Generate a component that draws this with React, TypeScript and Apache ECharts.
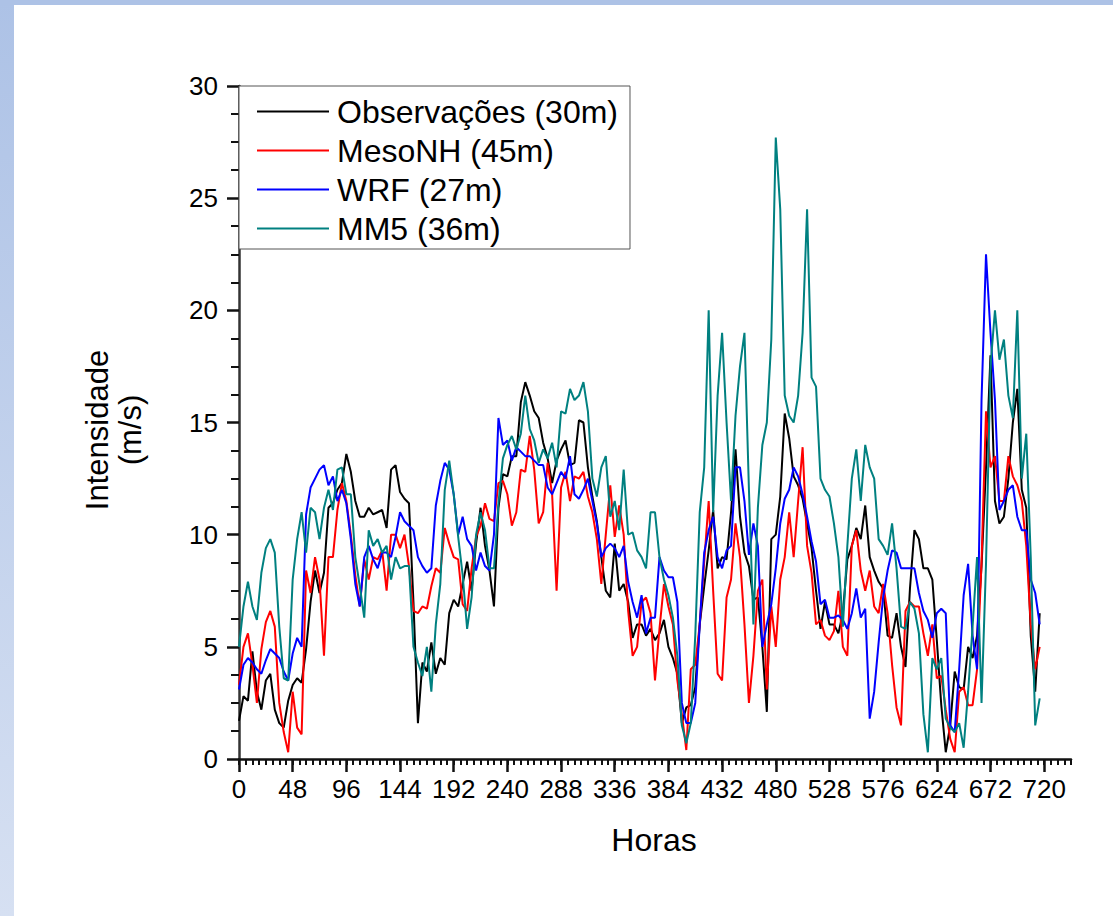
import React, { useEffect, useRef } from 'react';
import * as echarts from 'echarts';

// sampling grid: every 4 hours
const HOURS: number[] = Array.from({ length: 180 }, (_, i) => i * 4);

const OBS = [
  1.7, 2.8, 2.6, 4.8, 3.0, 2.2, 3.5, 3.8, 2.2, 1.6,
  1.4, 2.6, 3.3, 3.6, 3.4, 4.9, 7.0, 8.4, 7.4, 8.3,
  11.2, 11.4, 12.0, 12.3, 13.6, 12.8, 11.5, 10.8, 10.8, 11.2,
  10.9, 11.0, 11.1, 10.3, 12.9, 13.1, 11.9, 11.6, 11.4, 7.0,
  1.6, 4.3, 3.9, 5.2, 3.8, 4.5, 4.2, 6.5, 7.1, 6.8,
  7.8, 8.8, 7.5, 9.6, 11.2, 9.5, 8.4, 6.8, 11.2, 12.7,
  12.6, 13.5, 13.5, 15.9, 16.8, 16.2, 15.5, 15.2, 14.1, 13.4,
  12.3, 13.3, 13.8, 14.2, 13.1, 13.2, 15.1, 15.0, 13.0, 11.7,
  10.6, 9.0, 7.5, 7.2, 9.6, 7.5, 7.8, 7.0, 5.4, 6.0,
  6.0, 5.5, 5.8, 5.3, 5.6, 6.2, 5.0, 4.5, 3.8, 1.6,
  2.3, 2.4, 3.2, 6.0, 7.7, 9.3, 11.1, 8.5, 9.0, 8.9,
  11.0, 13.8, 10.8, 9.2, 8.6, 7.1, 7.2, 5.0, 2.1, 9.8,
  10.0, 11.7, 15.4, 14.3, 12.6, 12.2, 11.6, 10.5, 9.4, 7.5,
  5.8, 7.0, 6.0, 6.0, 5.6, 6.5, 8.9, 9.5, 10.3, 9.8,
  11.3, 9.0, 8.4, 7.9, 7.6, 5.5, 5.4, 6.5, 5.0, 4.1,
  7.6, 10.2, 9.8, 8.5, 8.5, 8.0, 5.3, 2.4, 0.3, 1.5,
  3.9, 3.2, 3.1, 5.0, 4.5, 5.5, 8.6, 13.0, 18.0, 11.5,
  10.5, 10.8, 12.5, 15.0, 16.5, 12.0, 11.2, 5.5, 3.0, 6.5,
];

const MESONH = [
  3.3, 5.0, 5.6, 4.2, 2.5, 4.9, 6.1, 6.6, 5.9, 2.5,
  1.2, 0.3, 3.0, 1.4, 1.1, 8.4, 7.4, 9.0, 8.0, 4.6,
  9.0, 9.0, 11.1, 12.3, 11.5, 10.0, 8.2, 6.8, 8.9, 8.0,
  9.0, 8.9, 9.3, 7.5, 10.0, 10.0, 9.4, 10.0, 8.6, 6.6,
  6.5, 6.8, 6.7, 7.7, 8.5, 8.3, 10.3, 9.6, 9.0, 8.9,
  6.9, 6.6, 8.5, 9.9, 10.4, 11.4, 10.7, 10.6, 12.3, 12.4,
  11.8, 10.4, 11.0, 12.9, 12.8, 14.4, 12.9, 10.5, 11.0, 13.2,
  11.8, 7.5, 12.1, 12.8, 11.5, 12.6, 12.5, 12.8, 11.7, 11.0,
  9.8, 7.8, 10.0, 12.2, 9.9, 11.3, 10.0, 6.6, 4.6, 5.0,
  7.0, 7.2, 6.5, 3.5, 5.8, 7.8, 6.8, 6.0, 3.5, 2.0,
  0.4, 4.0, 4.2, 6.0, 8.8, 11.5, 7.5, 3.8, 3.5, 7.2,
  8.0, 10.5, 9.0, 6.0, 2.5, 4.6, 7.5, 8.0, 3.1, 6.8,
  5.0, 8.0, 9.0, 11.0, 9.0, 11.5, 13.9, 9.5, 8.3, 6.0,
  6.2, 5.5, 5.3, 5.7, 7.5, 5.0, 4.6, 9.5, 10.2, 8.4,
  7.5, 8.4, 6.8, 6.5, 7.8, 6.5, 4.2, 2.3, 1.5, 6.6,
  7.0, 6.8, 6.8, 5.6, 4.6, 6.0, 3.6, 3.7, 2.2, 0.9,
  0.3, 3.0, 3.2, 2.4, 2.4, 4.0, 8.8, 15.5, 13.0, 13.5,
  11.5, 11.5, 13.5, 12.6, 12.2, 11.5, 9.5, 6.0, 4.0, 5.0,
];

const WRF = [
  3.1, 4.2, 4.5, 4.3, 4.0, 3.8, 4.4, 4.9, 4.7, 4.5,
  3.9, 3.5, 4.7, 5.4, 5.0, 10.9, 12.1, 12.5, 12.9, 13.1,
  12.2, 12.6, 11.5, 12.0, 11.4, 9.8, 7.8, 6.8, 9.0, 9.5,
  8.9, 8.5, 9.2, 9.2, 9.0, 9.9, 11.0, 10.6, 10.4, 10.2,
  9.0, 8.6, 8.3, 8.5, 11.3, 12.4, 13.2, 12.9, 11.8, 10.0,
  10.8, 9.8, 9.5, 8.4, 9.2, 8.6, 8.4, 10.0, 15.2, 14.0,
  14.2, 13.3, 13.9, 13.7, 13.5, 13.5, 13.3, 13.1, 13.1, 12.1,
  11.8, 12.3, 12.8, 12.5, 13.5, 11.8, 11.6, 12.0, 12.5, 11.5,
  10.5, 9.0, 9.4, 9.6, 9.4, 9.0, 9.5, 7.9, 7.0, 6.3,
  7.3, 5.6, 6.3, 6.3, 9.0, 8.4, 8.1, 8.1, 7.0, 2.5,
  1.6, 1.6, 2.5, 6.0, 9.2, 10.2, 10.8, 9.0, 8.5, 9.3,
  9.5, 13.0, 13.0, 11.5, 9.1, 10.5, 9.5, 5.0, 6.0, 6.9,
  8.5, 10.5, 11.6, 12.0, 13.0, 12.6, 11.8, 10.8, 9.7, 8.8,
  6.9, 7.1, 6.3, 6.3, 6.4, 6.2, 5.8, 6.5, 7.6, 6.3,
  6.7, 1.8, 3.0, 5.2, 7.2, 8.4, 9.3, 9.2, 8.5, 8.5,
  8.5, 8.5, 7.4, 6.6, 6.2, 5.4, 6.5, 6.7, 6.5, 1.5,
  1.2, 4.0, 7.3, 8.7, 5.5, 4.0, 16.0, 22.5, 19.0, 16.0,
  11.1, 11.5, 12.0, 12.2, 10.8, 10.2, 10.2, 8.0, 7.4, 6.0,
];

const MM5 = [
  5.0, 6.8, 7.9, 6.8, 6.2, 8.3, 9.4, 9.8, 9.2, 5.9,
  3.6, 3.5, 8.0, 9.8, 11.0, 9.2, 11.2, 11.0, 9.8, 11.2,
  12.0, 11.1, 12.9, 13.0, 11.8, 11.8, 9.0, 7.7, 6.3, 10.2,
  9.5, 9.8, 9.2, 9.5, 8.0, 9.0, 8.5, 8.6, 8.6, 5.0,
  4.3, 3.7, 5.0, 3.0, 6.0, 7.8, 12.0, 13.3, 11.8, 9.9,
  8.2, 5.8, 7.2, 10.0, 11.0, 10.2, 8.5, 8.5, 11.4, 13.4,
  14.0, 14.4, 13.8, 14.5, 16.2, 14.7, 14.2, 13.2, 13.8, 13.4,
  14.1, 13.0, 15.5, 15.4, 16.5, 16.0, 16.2, 16.8, 15.5, 12.5,
  11.7, 13.0, 13.5, 10.8, 11.5, 10.2, 12.9, 10.0, 10.1, 9.3,
  9.0, 8.5, 11.0, 11.0, 9.0, 8.0, 7.3, 6.3, 4.6, 1.5,
  0.7, 1.6, 5.5, 11.0, 13.0, 20.0, 11.0, 16.2, 19.0, 15.0,
  11.5, 15.3, 17.5, 19.0, 12.0, 6.0, 11.2, 14.0, 15.0, 18.7,
  27.7, 24.5, 16.2, 15.3, 15.0, 16.2, 19.0, 24.5, 17.0, 16.6,
  12.5, 12.0, 11.7, 10.5, 9.0, 5.9, 9.5, 12.5, 13.8, 11.5,
  14.0, 13.0, 12.5, 9.8, 9.5, 9.1, 10.5, 8.5, 5.9, 5.8,
  7.0, 6.7, 5.6, 2.0, 0.3, 4.5, 4.0, 4.5, 1.8, 1.4,
  1.2, 1.6, 0.5, 3.0, 5.9, 9.0, 2.5, 8.7, 17.5, 20.0,
  17.8, 18.7, 16.2, 15.2, 20.0, 12.5, 14.5, 9.0, 1.5, 2.7,
];

const X_TICKS = [0, 48, 96, 144, 192, 240, 288, 336, 384, 432, 480, 528, 576, 624, 672, 720];
const SERIES_NAMES = ['Observações (30m)', 'MesoNH (45m)', 'WRF (27m)', 'MM5 (36m)'];
const SERIES_VALUES = [OBS, MESONH, WRF, MM5];
const COLORS = ['#000000', '#ff0000', '#0000ff', '#008080'];

const FONT = '"Liberation Sans", Arial, Helvetica, sans-serif';

export default function App() {
  const ref = useRef<HTMLDivElement>(null);

  useEffect(() => {
    if (!ref.current) return;
    const chart = echarts.init(ref.current, null, { renderer: 'svg' });
    const pairs = (vals: number[]) => HOURS.map((h, i) => [h, vals[i]]);

    chart.setOption({
      animation: false,
      backgroundColor: '#ffffff',
      grid: { left: 239, top: 86, width: 832, height: 673, containLabel: false },
      xAxis: [
        {
          type: 'value',
          min: 0,
          max: 744,
          interval: 48,
          position: 'bottom',
          axisLine: { show: true, onZero: false, lineStyle: { color: '#111', width: 2.5 } },
          axisTick: {
            show: true,
            inside: false,
            length: 13,
            customValues: X_TICKS,
            lineStyle: { color: '#111', width: 2.5 },
          },
          axisLabel: {
            show: true,
            margin: 17,
            fontSize: 26,
            color: '#000',
            fontFamily: FONT,
            customValues: X_TICKS,
          },
          splitLine: { show: false },
          minorTick: { show: false },
        },
        {
          type: 'value',
          min: 0,
          max: 744,
          interval: 6,
          position: 'bottom',
          axisLine: { show: false },
          axisTick: { show: true, inside: false, length: 6, lineStyle: { color: '#111', width: 2 } },
          axisLabel: { show: false },
          splitLine: { show: false },
        },
      ],
      yAxis: {
        type: 'value',
        min: 0,
        max: 30,
        interval: 5,
        axisLine: { show: true, onZero: false, lineStyle: { color: '#333', width: 2.5 } },
        axisTick: { show: true, inside: false, length: 12, lineStyle: { color: '#111', width: 2.5 } },
        minorTick: { show: true, splitNumber: 4, length: 8, lineStyle: { color: '#111', width: 2 } },
        axisLabel: { margin: 21, fontSize: 26, color: '#000', fontFamily: FONT },
        splitLine: { show: false },
      },
      legend: {
        orient: 'vertical',
        left: 239,
        top: 86,
        padding: [8, 12, 3, 18],
        itemGap: 4,
        itemWidth: 72,
        itemHeight: 2,
        icon: 'rect',
        selectedMode: false,
        backgroundColor: '#ffffff',
        borderColor: '#555',
        borderWidth: 1,
        textStyle: { fontSize: 32, fontFamily: FONT, color: '#000', lineHeight: 35, padding: [0, 0, 0, 3] },
        data: SERIES_NAMES,
      },
      graphic: [
        {
          type: 'rect',
          shape: { x: 0, y: 0, width: 14, height: 916 },
          style: {
            fill: new echarts.graphic.LinearGradient(0, 0, 0, 1, [
              { offset: 0, color: '#adc2e6' },
              { offset: 1, color: '#d6e0f2' },
            ]),
          },
          silent: true,
        },
        {
          type: 'rect',
          shape: { x: 0, y: 0, width: 1113, height: 5 },
          style: { fill: '#adc2e6' },
          silent: true,
        },
        {
          type: 'text',
          x: 654,
          y: 840,
          style: {
            text: 'Horas',
            font: `32px ${FONT}`,
            fill: '#000',
            align: 'center',
            verticalAlign: 'middle',
          },
        },
        {
          type: 'text',
          x: 114,
          y: 430,
          rotation: Math.PI / 2,
          style: {
            text: 'Intensidade\n(m/s)',
            font: `31px ${FONT}`,
            fill: '#000',
            align: 'center',
            verticalAlign: 'middle',
            lineHeight: 33,
          },
        },
      ],
      series: SERIES_NAMES.map((name, i) => ({
        name,
        type: 'line',
        xAxisIndex: 0,
        yAxisIndex: 0,
        data: pairs(SERIES_VALUES[i]),
        symbol: 'none',
        showSymbol: false,
        color: COLORS[i],
        lineStyle: { color: COLORS[i], width: 2 },
        z: 2 + i,
      })),
    });

    return () => chart.dispose();
  }, []);

  return (
    <div style={{ position: 'absolute', left: 0, top: 0, width: 1113, height: 916, background: '#fff' }}>
      <div ref={ref} style={{ width: 1113, height: 916 }} />
    </div>
  );
}
